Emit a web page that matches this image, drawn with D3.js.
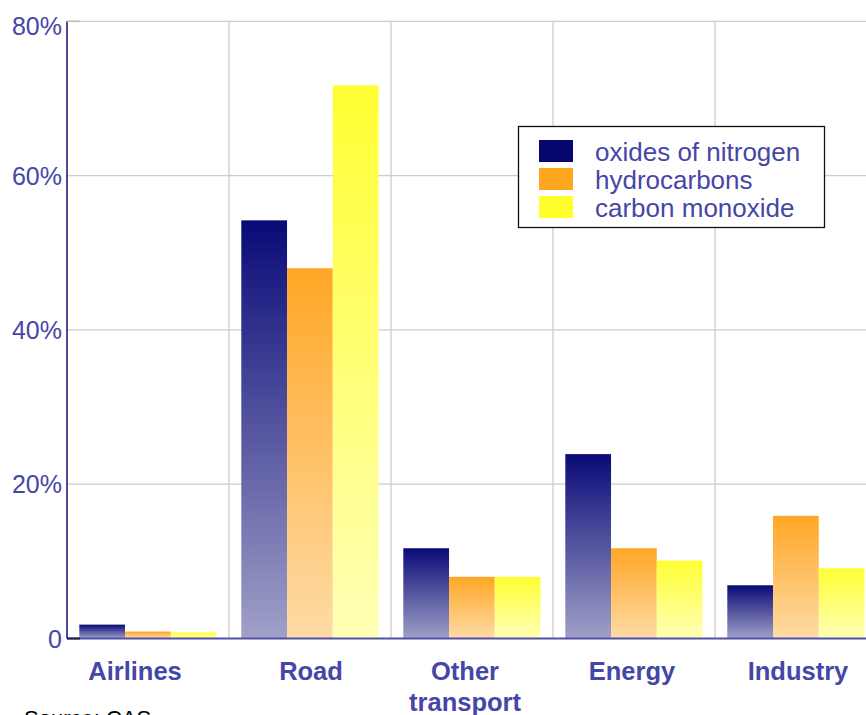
<!DOCTYPE html>
<html><head><meta charset="utf-8">
<script src="https://cdn.jsdelivr.net/npm/d3@7"></script>
<style>
html,body{margin:0;padding:0;background:#fff;overflow:hidden}
svg{display:block;font-family:"Liberation Sans",Arial,sans-serif}
</style></head>
<body><svg id="c" width="866" height="715"></svg>
<script>
const categories = ["Airlines", "Road", "Other transport", "Energy", "Industry"];
const seriesNames = ["oxides of nitrogen", "hydrocarbons", "carbon monoxide"];
const nitrogen = [1.8, 54.2, 11.7, 23.9, 6.9];
const hydrocarbons = [0.9, 48.0, 8.0, 11.7, 15.9];
const carbonMonoxide = [0.8, 71.7, 8.0, 10.1, 9.1];
const yTicks = [0, 20, 40, 60, 80];
const yTickLabels = ["0", "20%", "40%", "60%", "80%"];
const sourceText = "Source: CAS";

const seriesValues = [nitrogen, hydrocarbons, carbonMonoxide];
const labelShift = [-13, 1, -7, -2, 2];
const topColors = ["#0a0a78", "#ffa726", "#ffff33"];
const bottomColors = ["#a0a0c8", "#fedba6", "#ffffb6"];
const legendColors = ["#05056e", "#ffa61f", "#ffff2b"];
const textColor = "#4646a8";

const svg = d3.select("#c");
const pLeft = 67, pBottom = 638.5, pTop = 21.3, pRight = 877;

const x = d3.scaleBand().domain(categories).range([pLeft, pRight]).padding(0);
const xs = d3.scaleBand().domain(seriesNames).range([12.3, 149.5]).padding(0);
const y = d3.scaleLinear().domain([0, 80]).range([pBottom, pTop]);

const defs = svg.append("defs");
seriesNames.forEach((s, i) => {
  const g = defs.append("linearGradient").attr("id", "g" + i)
    .attr("x1", 0).attr("y1", 0).attr("x2", 0).attr("y2", 1);
  g.append("stop").attr("offset", 0).attr("stop-color", topColors[i]);
  g.append("stop").attr("offset", 1).attr("stop-color", bottomColors[i]);
});

// horizontal gridlines
svg.append("g").selectAll("line").data(yTicks.filter(d => d > 0)).join("line")
  .attr("x1", pLeft).attr("x2", 866)
  .attr("y1", d => y(d)).attr("y2", d => y(d))
  .attr("stroke", "#cccccc").attr("stroke-width", 1.3);
// vertical gridlines at band boundaries
svg.append("g").selectAll("line").data(categories.slice(1)).join("line")
  .attr("x1", d => x(d)).attr("x2", d => x(d))
  .attr("y1", pTop).attr("y2", pBottom)
  .attr("stroke", "#cccccc").attr("stroke-width", 1.3);

// bars
const rows = [];
categories.forEach((c, ci) => seriesNames.forEach((s, si) => rows.push({c, s, si, v: seriesValues[si][ci]})));
svg.append("g").selectAll("rect").data(rows).join("rect")
  .attr("x", d => x(d.c) + xs(d.s))
  .attr("width", xs.bandwidth())
  .attr("y", d => y(d.v))
  .attr("height", d => y(0) - y(d.v))
  .attr("fill", d => `url(#g${d.si})`);

// axes lines
svg.append("line").attr("x1", pLeft).attr("x2", 866).attr("y1", pBottom).attr("y2", pBottom)
  .attr("stroke", "#5050a8").attr("stroke-width", 2);
svg.append("line").attr("x1", pLeft).attr("x2", pLeft).attr("y1", pTop).attr("y2", pBottom)
  .attr("stroke", "#10107a").attr("stroke-width", 1.5);
svg.append("line").attr("x1", pLeft).attr("x2", pLeft + 13).attr("y1", pTop).attr("y2", pTop)
  .attr("stroke", "#bbbbbb").attr("stroke-width", 1.5);
svg.append("line").attr("x1", pLeft).attr("x2", pLeft + 13).attr("y1", pBottom).attr("y2", pBottom)
  .attr("stroke", "#222244").attr("stroke-width", 2);

// y tick labels
svg.append("g").selectAll("text").data(yTicks).join("text")
  .attr("x", pLeft - 5)
  .attr("y", d => y(d) + (d === 80 ? 14 : 9))
  .attr("text-anchor", "end")
  .attr("font-size", 25)
  .attr("fill", textColor)
  .text((d, i) => yTickLabels[i]);

// category labels
const catG = svg.append("g");
categories.forEach((c, ci) => {
  const words = c.split(" ");
  const cx = x(c) + x.bandwidth() / 2 + labelShift[ci];
  const t = catG.append("text")
    .attr("x", cx)
    .attr("y", 680)
    .attr("text-anchor", "middle")
    .attr("font-size", 25.5)
    .attr("font-weight", "bold")
    .attr("fill", textColor);
  words.forEach((w, i) => t.append("tspan").attr("x", cx)
    .attr("dy", i === 0 ? 0 : 31).text(w));
});

// legend
const lg = svg.append("g");
lg.append("rect").attr("x", 518.5).attr("y", 126.5).attr("width", 306).attr("height", 101)
  .attr("fill", "#fff").attr("stroke", "#111").attr("stroke-width", 1.3);
seriesNames.forEach((s, i) => {
  lg.append("rect").attr("x", 539).attr("y", 140 + i * 28).attr("width", 34).attr("height", 22)
    .attr("fill", legendColors[i]);
  lg.append("text").attr("x", 595).attr("y", 160.5 + i * 28)
    .attr("font-size", 26).attr("fill", textColor).text(s);
});

// source (cut off by the bottom edge, as in the reference)
svg.append("text").attr("x", 24).attr("y", 726).attr("font-size", 22).attr("fill", "#000").text(sourceText);
</script></body></html>
